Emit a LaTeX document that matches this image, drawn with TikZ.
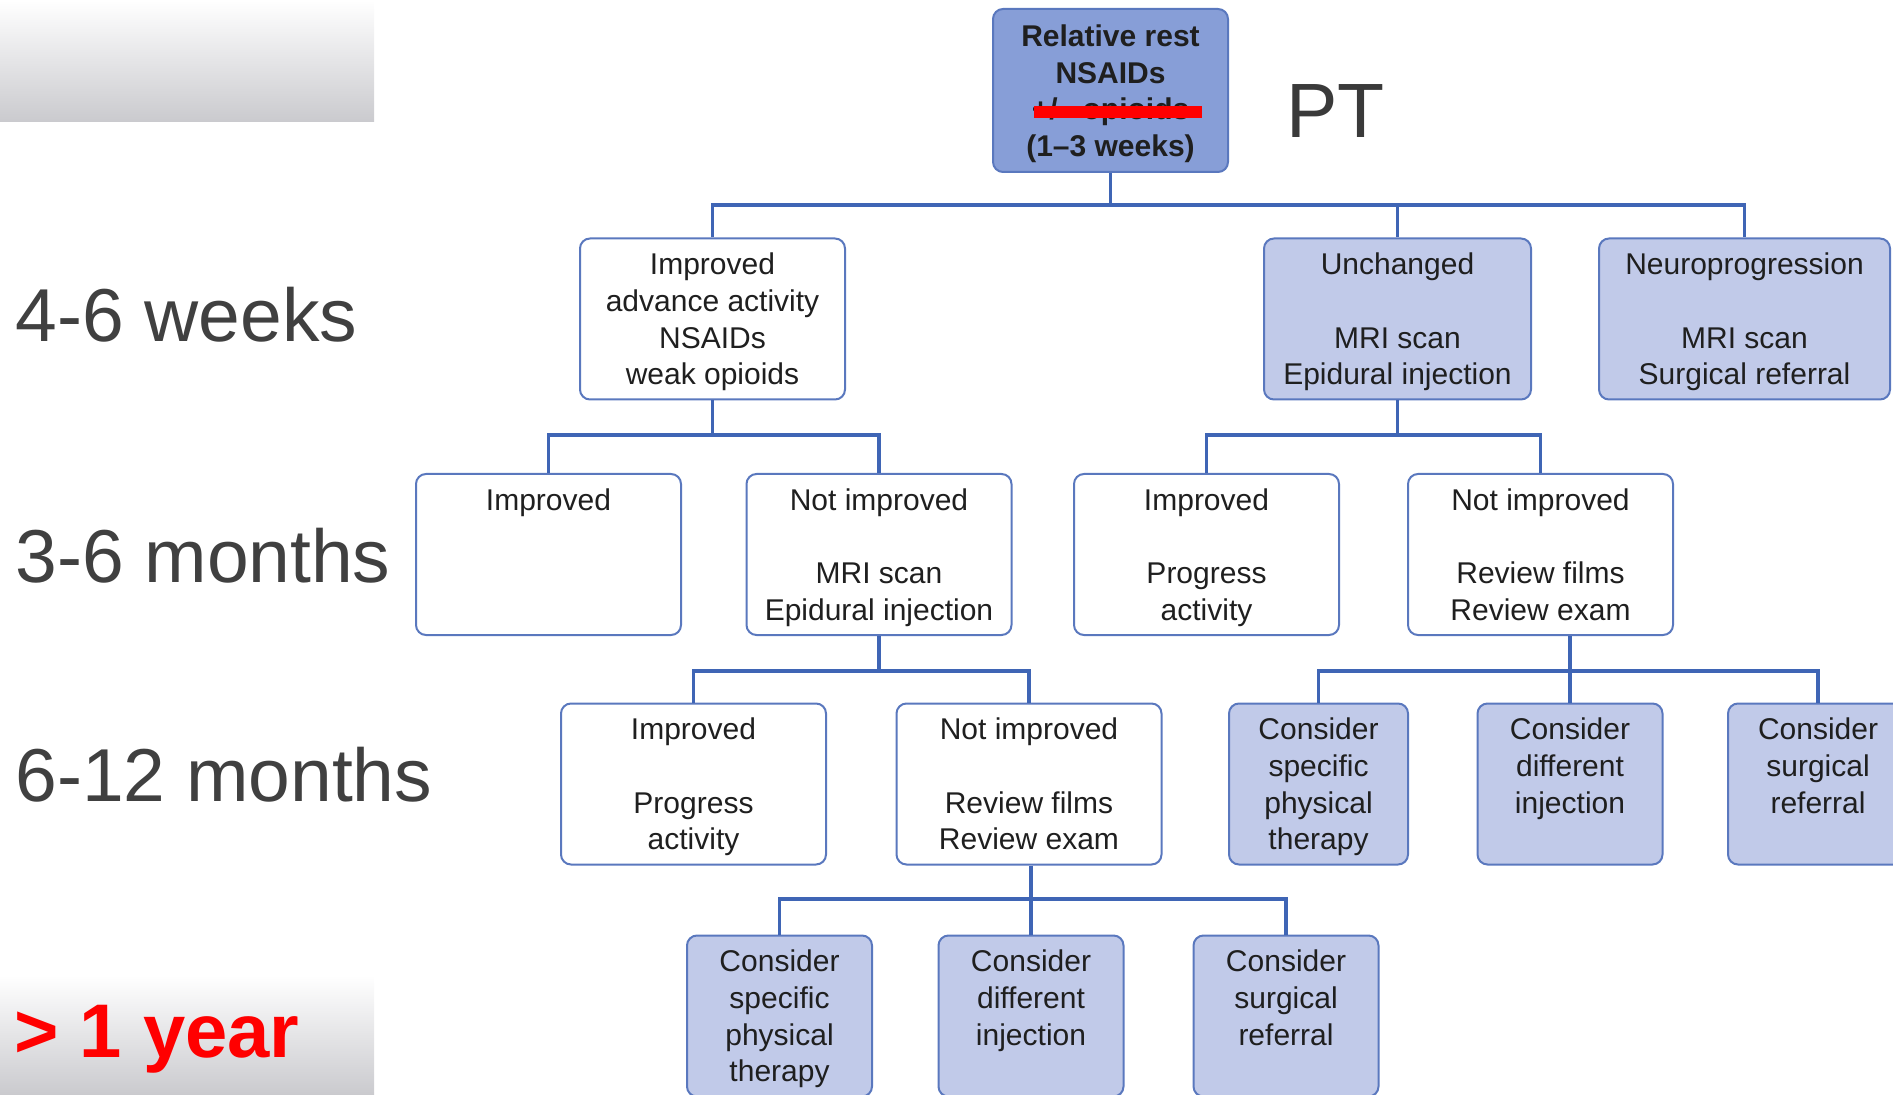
\documentclass[tikz,border=0pt]{standalone}
\usepackage{fontspec}
\setmainfont{Liberation Sans}

\begin{document}
\begin{tikzpicture}[x=0.5pt,y=-0.5pt]
  % Local definitions
  \def\boxfont{\fontsize{15}{18.3}\selectfont}

  % Colors
  \definecolor{linkcolor}{HTML}{3F65B5}
  \definecolor{edgecolor}{HTML}{5A78BE}
  \definecolor{headfill}{HTML}{879ED7}
  \definecolor{palefill}{HTML}{C1CAE9}
  \definecolor{labelgray}{HTML}{404040}
  \definecolor{fadegray}{HTML}{CACACE}

  % Styles
  \tikzstyle{box}=[draw=edgecolor,line width=1pt,rounded corners=5pt,
    minimum height=80.5pt,align=center,inner sep=0pt,font=\boxfont,text=black!88,
    text depth=0pt]
  \tikzstyle{white box}=[box,fill=white,minimum width=132.5pt]
  \tikzstyle{pale box}=[box,fill=palefill]
  \tikzstyle{head box}=[box,fill=headfill,minimum width=117.5pt,
    minimum height=81.5pt,font=\boxfont\bfseries]
  \tikzstyle{link}=[draw=linkcolor,line width=1.6pt]
  \tikzstyle{strike}=[draw=red,line width=6pt]
  \tikzstyle{time label}=[anchor=base west,inner sep=0pt,text=labelgray,
    font=\fontsize{37.5}{45}\selectfont]

  \useasboundingbox (0,0) rectangle (1893,1095);
  \clip (0,0) rectangle (1893,1095);

  % faded bars on the left
  \shade[top color=white,bottom color=fadegray] (0,0) rectangle (374,122);
  \shade[top color=white,bottom color=fadegray] (0,975) rectangle (374,1095);

  % time labels
  \node[time label] (weeks) at (15,342) {4-6 weeks};
  \node[time label] (months) at (15,582) {3-6 months};
  \node[time label] (halfyear) at (15,801) {6-12 months};
  \node[anchor=base west,inner sep=0pt,text=red,
    font=\fontsize{38}{46}\selectfont\bfseries] (year) at (14,1057) {> 1 year};
  \node[anchor=base west,inner sep=0pt,text=labelgray!90!black,
    font=\fontsize{38.5}{46}\selectfont] (pt) at (1286,138) {PT};

  % start
  \node[head box] (rest) at (1110.5,90.5)
    {Relative rest\\NSAIDs\\+/– opioids\\(1–3 weeks)};
  \draw[strike] (1034,112) -- (1202,112);

  % 4-6 weeks
  \node[white box] (improvedA) at (712.5,319)
    {Improved\\advance activity\\NSAIDs\\weak opioids};
  \node[pale box,minimum width=133.5pt] (unchanged) at (1397.5,319)
    {Unchanged\\~\\MRI scan\\Epidural injection};
  \node[pale box,minimum width=145.5pt] (neuro) at (1744.5,319)
    {Neuroprogression\\~\\MRI scan\\Surgical referral};

  % 3-6 months
  \node[white box] (improvedB) at (548.5,554.5) {Improved\\~\\~\\~};
  \node[white box] (notimprovedB) at (879,554.5)
    {Not improved\\~\\MRI scan\\Epidural injection};
  \node[white box] (improvedC) at (1206.5,554.5)
    {Improved\\~\\Progress\\activity};
  \node[white box] (notimprovedC) at (1540.5,554.5)
    {Not improved\\~\\Review films\\Review exam};

  % 6-12 months
  \node[white box] (improvedD) at (693.5,784)
    {Improved\\~\\Progress\\activity};
  \node[white box] (notimprovedD) at (1029,784)
    {Not improved\\~\\Review films\\Review exam};
  \node[pale box,minimum width=89.5pt] (physioA) at (1318.5,784)
    {Consider\\specific\\physical\\therapy};
  \node[pale box,minimum width=92.5pt] (injectA) at (1570,784)
    {Consider\\different\\injection\\~};
  \node[pale box,minimum width=90pt] (surgeryA) at (1818,784)
    {Consider\\surgical\\referral\\~};

  % > 1 year
  \node[pale box,minimum width=92.5pt] (physioB) at (779.5,1016)
    {Consider\\specific\\physical\\therapy};
  \node[pale box,minimum width=92.5pt] (injectB) at (1031,1016)
    {Consider\\different\\injection\\~};
  \node[pale box,minimum width=92.5pt] (surgeryB) at (1286,1016)
    {Consider\\surgical\\referral\\~};

  % connectors
  \coordinate (busA) at (0,205);
  \coordinate (busB) at (0,435);
  \coordinate (busC) at (0,671);
  \coordinate (busD) at (0,899);

  \draw[link] (rest.south) -- (rest.south |- busA);
  \draw[link] (improvedA.north) |- (neuro.north |- busA) -- (neuro.north);
  \draw[link] (unchanged.north) -- (unchanged.north |- busA);

  \draw[link] (improvedA.south) -- (improvedA.south |- busB);
  \draw[link] (improvedB.north) |- (notimprovedB.north |- busB) -- (notimprovedB.north);
  \draw[link] (unchanged.south) -- (unchanged.south |- busB);
  \draw[link] (improvedC.north) |- (notimprovedC.north |- busB) -- (notimprovedC.north);

  \draw[link] (notimprovedB.south) -- (notimprovedB.south |- busC);
  \draw[link] (improvedD.north) |- (notimprovedD.north |- busC) -- (notimprovedD.north);
  \draw[link] (notimprovedC.south -| injectA.north) -- (injectA.north);
  \draw[link] (physioA.north) |- (surgeryA.north |- busC) -- (surgeryA.north);

  \draw[link] (notimprovedD.south -| injectB.north) -- (injectB.north);
  \draw[link] (physioB.north) |- (surgeryB.north |- busD) -- (surgeryB.north);
\end{tikzpicture}
\end{document}
